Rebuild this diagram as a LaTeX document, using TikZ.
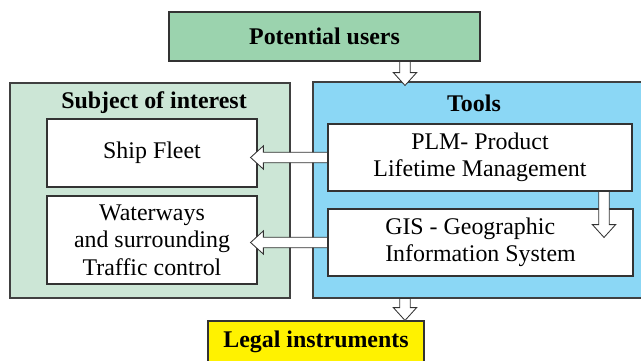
\documentclass[tikz,border=0pt]{standalone}
\usepackage{fontspec}
\setmainfont{LiberationSerif}[Extension=.ttf, UprightFont=*-Regular, BoldFont=*-Bold, ItalicFont=*-Italic, BoldItalicFont=*-BoldItalic]
\usetikzlibrary{calc}
\usepackage{xcolor}

\definecolor{usersgreen}{HTML}{9BD3AE}
\definecolor{subjgreen}{HTML}{CCE6D6}
\definecolor{toolsblue}{HTML}{8BD7F5}
\definecolor{legalyellow}{HTML}{FFF200}

% block arrow sizes (half shaft, half head, head length)
\newcommand{\arrw}{0.13cm}
\newcommand{\arrr}{0.29cm}
\newcommand{\arrh}{0.32cm}

\begin{document}
\begin{tikzpicture}[
  box/.style={draw=black!80, line width=0.8pt, anchor=center, inner sep=0pt, align=center, font=\fontsize{17}{19.5}\selectfont},
  topbox/.style={box, font=\fontsize{17}{20}\selectfont\bfseries},
  panel/.style={draw=black!75, line width=0.8pt, anchor=center, inner sep=0pt},
  inner/.style={box, fill=white},
  title/.style={font=\fontsize{17}{20}\selectfont\bfseries, anchor=center},
  fatarrow/.style={fill=white, draw=black!80, line width=0.6pt, to path={
    let \p1=(\tikztostart), \p2=(\tikztotarget),
        \n3={veclen(\x2-\x1,\y2-\y1)},
        \n1={(\x2-\x1)/\n3}, \n2={(\y2-\y1)/\n3}
    in ({\x1-(\n2)*\arrw},{\y1+(\n1)*\arrw})
    -- ({\x2-(\n1)*\arrh-(\n2)*\arrw},{\y2-(\n2)*\arrh+(\n1)*\arrw})
    -- ({\x2-(\n1)*\arrh-(\n2)*\arrr},{\y2-(\n2)*\arrh+(\n1)*\arrr})
    -- (\p2)
    -- ({\x2-(\n1)*\arrh+(\n2)*\arrr},{\y2-(\n2)*\arrh-(\n1)*\arrr})
    -- ({\x2-(\n1)*\arrh+(\n2)*\arrw},{\y2-(\n2)*\arrh-(\n1)*\arrw})
    -- ({\x1+(\n2)*\arrw},{\y1-(\n1)*\arrw}) -- cycle}},
]
\useasboundingbox (0,0) rectangle (16.025,9);

% Top: potential users
\node[topbox, fill=usersgreen, minimum width=7.775cm, minimum height=1.225cm] (users) at (8.1125, 8.0875) {Potential users};

% Left panel: subject of interest
\node[panel, fill=subjgreen, minimum width=7.0cm, minimum height=5.375cm] (subject) at (3.75, 4.2375) {};
\node[title] (subjtitle) at (3.85, 6.425) {Subject of interest};
\node[inner, minimum width=5.25cm, minimum height=1.7cm] (fleet) at (3.8, 5.175) {Ship Fleet};
\node[inner, minimum width=5.25cm, minimum height=2.2cm] (water) at (3.8, 3.0) {Waterways\\and surrounding\\Traffic control};

% Right panel: tools
\node[panel, fill=toolsblue, minimum width=8.675cm, minimum height=5.4cm] (tools) at (12.1625, 4.25) {};
\node[title] (toolstitle) at (11.85, 6.425) {Tools};
\node[inner, minimum width=7.6cm, minimum height=1.675cm] (plm) at (12.0, 5.0625) {PLM- Product\\Lifetime Management};
\node[inner, align=left, minimum width=7.625cm, minimum height=1.675cm] (gis) at (12.0125, 2.9375) {GIS - Geographic\\Information System};

% Bottom: legal instruments
\node[topbox, fill=legalyellow, minimum width=5.4cm, minimum height=1.05cm] (legal) at (7.9, 0.45) {Legal instruments};

% Arrow end points
\coordinate (u2t) at ([xshift=2.0125cm]users.south);
\coordinate (u2ttip) at ([yshift=-0.1cm]u2t |- tools.north);
\coordinate (p2f) at ([xshift=-0.175cm]fleet.east |- plm.west);
\coordinate (g2w) at ([xshift=-0.175cm]water.east |- gis.west);
\coordinate (p2g) at ([xshift=3.1cm]plm.south);
\coordinate (p2gtip) at ([yshift=-0.725cm]p2g |- gis.north);
\coordinate (t2l) at (tools.south -| u2t);
\coordinate (t2ltip) at (legal.north -| u2t);

% Arrows
\draw[fatarrow] (u2t) to (u2ttip);
\draw[fatarrow] (plm.west) to (p2f);
\draw[fatarrow] (gis.west) to (g2w);
\draw[fatarrow] (p2g) to (p2gtip);
\draw[fatarrow] (t2l) to (t2ltip);

\end{tikzpicture}
\end{document}
